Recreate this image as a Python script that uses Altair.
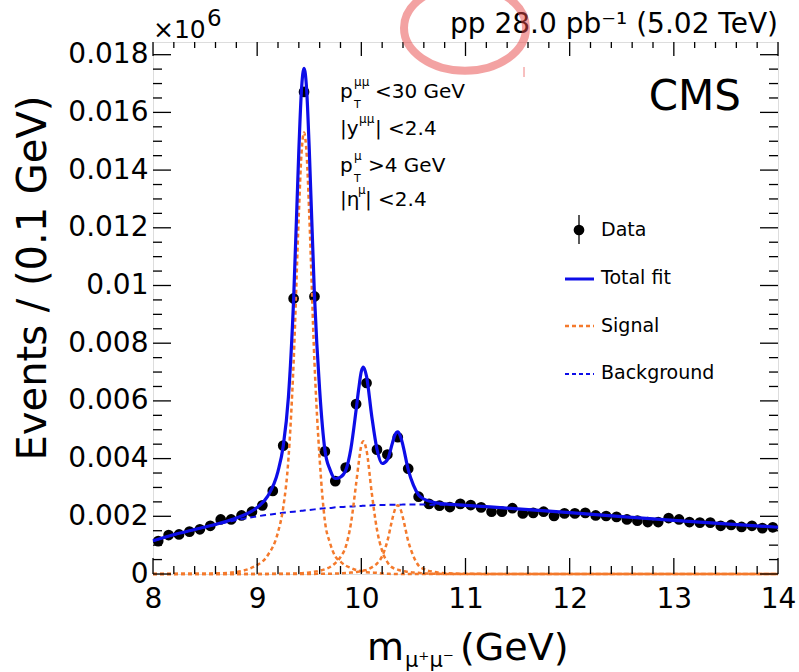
import altair as alt
import pandas as pd

# ---------------- data ----------------
mass = [8.05, 8.15, 8.25, 8.35, 8.45, 8.55, 8.65, 8.75, 8.85, 8.95,
        9.05, 9.15, 9.25, 9.35, 9.45, 9.55, 9.65, 9.75, 9.85, 9.95,
        10.05, 10.15, 10.25, 10.35, 10.45, 10.55, 10.65, 10.75, 10.85, 10.95,
        11.05, 11.15, 11.25, 11.35, 11.45, 11.55, 11.65, 11.75, 11.85, 11.95,
        12.05, 12.15, 12.25, 12.35, 12.45, 12.55, 12.65, 12.75, 12.85, 12.95,
        13.05, 13.15, 13.25, 13.35, 13.45, 13.55, 13.65, 13.75, 13.85, 13.95]
events = [0.00114, 0.00135, 0.00137, 0.00147, 0.00155, 0.00167, 0.00189, 0.00189, 0.00203, 0.00216,
          0.00238, 0.00288, 0.00445, 0.00955, 0.01671, 0.00962, 0.00425, 0.00322, 0.00369, 0.00589,
          0.00662, 0.00431, 0.00414, 0.00474, 0.00365, 0.00268, 0.00243, 0.00237, 0.00232, 0.00243,
          0.00239, 0.00231, 0.00216, 0.00216, 0.00228, 0.00210, 0.00212, 0.00216, 0.00201, 0.00210,
          0.00210, 0.00212, 0.00203, 0.00201, 0.00198, 0.00189, 0.00185, 0.00180, 0.00180, 0.00194,
          0.00189, 0.00180, 0.00178, 0.00178, 0.00167, 0.00170, 0.00163, 0.00167, 0.00159, 0.00162]

fit_mass = [8.0, 8.25, 8.5, 8.75, 9.0, 9.1, 9.2, 9.25, 9.3, 9.35,
            9.4, 9.425, 9.45, 9.475, 9.5, 9.55, 9.6, 9.65, 9.7, 9.75,
            9.8, 9.85, 9.9, 9.95, 9.975, 10.0, 10.02, 10.05, 10.1, 10.15,
            10.2, 10.25, 10.3, 10.325, 10.35, 10.375, 10.4, 10.45, 10.5, 10.55,
            10.6, 10.7, 10.8, 11.0, 11.5, 12.0, 12.5, 13.0, 13.5, 14.0]
fit_background = [0.00115, 0.00140, 0.00162, 0.00183, 0.00200, 0.00205, 0.00210, 0.00212, 0.00214, 0.00216,
                  0.00218, 0.00219, 0.00220, 0.00221, 0.00222, 0.00224, 0.00226, 0.00228, 0.00229, 0.00231,
                  0.00232, 0.00233, 0.00234, 0.00235, 0.00236, 0.00236, 0.00237, 0.00237, 0.00238, 0.00239,
                  0.00239, 0.00240, 0.00240, 0.00240, 0.00240, 0.00240, 0.00241, 0.00241, 0.00241, 0.00241,
                  0.00241, 0.00240, 0.00240, 0.00237, 0.00226, 0.00213, 0.00199, 0.00186, 0.00174, 0.00162]
fit_signal_1s = [0, 0.000005, 0.00001, 0.00005, 0.00031, 0.00064, 0.00145, 0.0023, 0.00398, 0.00734,
                 0.01247, 0.01454, 0.0153, 0.01454, 0.01247, 0.00734, 0.00398, 0.00184, 0.00107, 0.00061,
                 0.00043, 0.00029, 0.00021, 0.00014, 0.00012, 0.0001, 0.00008, 0.00006, 0.00005, 0.00004,
                 0.00002, 0.00001, 0, 0, 0, 0, 0, 0, 0, 0,
                 0, 0, 0, 0, 0, 0, 0, 0, 0, 0]
fit_signal_2s = [0, 0, 0, 0, 0.000002, 0.000004, 0.000007, 0.000009, 0.000012, 0.000015,
                 0.000025, 0.000028, 0.000032, 0.000039, 0.000053, 0.000078, 0.000115, 0.000166, 0.000244, 0.000377,
                 0.000589, 0.000943, 0.00175, 0.00313, 0.00386, 0.00446, 0.0046, 0.00428, 0.00281, 0.00154,
                 0.0008, 0.00041, 0.00022, 0.00018, 0.00015, 0.00012, 0.0001, 0.00007, 0.00005, 0.00004,
                 0.00002, 0.00001, 0, 0, 0, 0, 0, 0, 0, 0]
fit_signal_3s = [0, 0, 0, 0, 0, 0, 0, 0, 0, 0,
                 0, 0, 0, 0, 0.000003, 0.000004, 0.000005, 0.000007, 0.00001, 0.000014,
                 0.000023, 0.000031, 0.000048, 0.000067, 0.000083, 0.0001, 0.00012, 0.00014, 0.00023, 0.00036,
                 0.00062, 0.00114, 0.00194, 0.00226, 0.00238, 0.00226, 0.00194, 0.00114, 0.00062, 0.00029,
                 0.00017, 0.00007, 0.00003, 0.00001, 0, 0, 0, 0, 0, 0]
fit_total = [0.00115, 0.00141, 0.00163, 0.00188, 0.00231, 0.00269, 0.00356, 0.00443, 0.00613, 0.00952,
             0.01468, 0.01676, 0.01753, 0.01679, 0.01474, 0.00966, 0.00637, 0.00430, 0.00361, 0.00331,
             0.00336, 0.00359, 0.00435, 0.00569, 0.00642, 0.00702, 0.00717, 0.00685, 0.00547, 0.00433,
             0.00383, 0.00396, 0.00456, 0.00484, 0.00493, 0.00478, 0.00445, 0.00362, 0.00308, 0.00274,
             0.00260, 0.00248, 0.00243, 0.00238, 0.00226, 0.00213, 0.00199, 0.00186, 0.00174, 0.00162]

x_ticks = [8, 9, 10, 11, 12, 13, 14]
y_ticks = [0, 0.002, 0.004, 0.006, 0.008, 0.010, 0.012, 0.014, 0.016, 0.018]
x_domain = [8, 14]
y_domain = [0, 0.01844]

legend_labels = ["Data", "Total fit", "Signal", "Background"]
title_text = "pp 28.0 pb\u207b\u00b9 (5.02 TeV)"
experiment = "CMS"
y_title = "Events / (0.1 GeV)"

# ---------------- layout / style ----------------
LEFT, TOP, W, H = 153, 42, 625, 532
FONT = "DejaVu Sans"
BLUE = "#0d0de8"
ORANGE = "#f47a2c"
DOT = 115

xs = alt.Scale(domain=x_domain, nice=False, zero=False)
ys = alt.Scale(domain=y_domain, nice=False)

X_AXIS = alt.Axis(values=x_ticks, format="d", ticks=False, domain=False, grid=False, title=None,
                  labelFontSize=28, labelFont=FONT, labelColor="black", labelPadding=11, labelFlush=False)
Y_AXIS = alt.Axis(values=y_ticks, format=".3~f", ticks=False, domain=False, grid=False, title=None,
                  labelFontSize=28, labelFont=FONT, labelColor="black", labelPadding=5, labelFlush=False)


def X(field):
    return alt.X(field, scale=xs, axis=X_AXIS, title=None)


def Y(field):
    return alt.Y(field, scale=ys, axis=Y_AXIS, title=None)


df_data = pd.DataFrame({"m": mass, "n": events})
df_fit = pd.DataFrame({"m": fit_mass, "bg": fit_background, "s1": fit_signal_1s,
                       "s2": fit_signal_2s, "s3": fit_signal_3s, "tot": fit_total})

points = alt.Chart(df_data).mark_circle(size=DOT, color="black", opacity=1).encode(
    x=X("m:Q"), y=Y("n:Q"))


def curve(field, color, width, dash=None):
    kw = dict(color=color, strokeWidth=width, interpolate="monotone")
    if dash:
        kw["strokeDash"] = dash
    return alt.Chart(df_fit).mark_line(**kw).encode(x=X("m:Q"), y=Y(field + ":Q"))


bg_line = curve("bg", BLUE, 2, [6, 4])
s1_line = curve("s1", ORANGE, 2.5, [4, 3])
s2_line = curve("s2", ORANGE, 2.5, [4, 3])
s3_line = curve("s3", ORANGE, 2.5, [4, 3])
tot_line = curve("tot", BLUE, 3.2)

# ---- inward ticks (ROOT style) ----
x_major = pd.DataFrame({"t": x_ticks})
x_minor = pd.DataFrame({"t": [round(8 + 0.2 * i, 1) for i in range(31) if i % 5]})
y_major = pd.DataFrame({"t": y_ticks})
y_minor = pd.DataFrame({"t": [round(0.0005 * i, 4) for i in range(37) if i % 4]})

ticks = []
for df, ln in [(x_major, 16), (x_minor, 8)]:
    ticks.append(alt.Chart(df).mark_rule(color="black", strokeWidth=1.3).encode(
        x=X("t:Q"), y=alt.value(H), y2=alt.value(H - ln)))
    ticks.append(alt.Chart(df).mark_rule(color="black", strokeWidth=1.3).encode(
        x=X("t:Q"), y=alt.value(0), y2=alt.value(ln - 2)))
for df, ln in [(y_major, 18), (y_minor, 9)]:
    ticks.append(alt.Chart(df).mark_rule(color="black", strokeWidth=1.3).encode(
        y=Y("t:Q"), x=alt.value(0), x2=alt.value(ln)))
    ticks.append(alt.Chart(df).mark_rule(color="black", strokeWidth=1.3).encode(
        y=Y("t:Q"), x=alt.value(W), x2=alt.value(W - ln)))


def txt(s, x, y, size, align="left", baseline="alphabetic", angle=None):
    kw = dict(align=align, baseline=baseline, fontSize=size, font=FONT, color="black")
    if angle is not None:
        kw["angle"] = angle
    return alt.Chart(pd.DataFrame({"label": [s]})).mark_text(**kw).encode(
        text="label:N", x=alt.value(x - LEFT), y=alt.value(y - TOP))


texts = [
    # top labels
    txt("\u00d710", 153, 38, 25),
    txt("6", 207, 26, 23),
    txt(title_text, 778, 33, 28, align="right"),
    txt(experiment, 741, 110, 42, align="right"),
    # selection cuts
    txt("p", 340, 98, 20), txt("\u03bc\u03bc", 354, 86, 12), txt("T", 354, 108, 11),
    txt("<30 GeV", 375, 98, 20),
    txt("|y", 340, 135, 20), txt("\u03bc\u03bc", 359, 123, 12), txt("| <2.4", 375, 135, 20),
    txt("p", 340, 172, 20), txt("\u03bc", 354, 160, 12), txt("T", 354, 182, 11),
    txt(">4 GeV", 368, 172, 20),
    txt("|\u03b7", 340, 206, 20), txt("\u03bc", 358, 194, 12), txt("| <2.4", 365, 206, 20),
    # legend
    txt(legend_labels[0], 601, 230, 19, baseline="middle"),
    txt(legend_labels[1], 601, 278, 19, baseline="middle"),
    txt(legend_labels[2], 601, 326, 19, baseline="middle"),
    txt(legend_labels[3], 601, 373, 19, baseline="middle"),
    # axis titles
    txt(y_title, 34, 278, 40, align="center", baseline="middle", angle=270),
    txt("m", 367, 660, 38),
    txt("\u03bc\u207a\u03bc\u207b", 405, 667, 21),
    txt("(GeV)", 460, 660, 38),
]

legend_marks = [
    alt.Chart(pd.DataFrame({"k": [0]})).mark_circle(size=DOT, color="black", opacity=1).encode(
        x=alt.value(579 - LEFT), y=alt.value(230 - TOP)),
    alt.Chart(pd.DataFrame({"k": [0]})).mark_rule(color="black", strokeWidth=1.3).encode(
        x=alt.value(579 - LEFT), y=alt.value(215 - TOP), y2=alt.value(244 - TOP)),
    alt.Chart(pd.DataFrame({"k": [0]})).mark_rule(color=BLUE, strokeWidth=3).encode(
        x=alt.value(565 - LEFT), x2=alt.value(594 - LEFT), y=alt.value(279 - TOP)),
    alt.Chart(pd.DataFrame({"k": [0]})).mark_rule(color=ORANGE, strokeWidth=2.5, strokeDash=[4, 3]).encode(
        x=alt.value(565 - LEFT), x2=alt.value(594 - LEFT), y=alt.value(326 - TOP)),
    alt.Chart(pd.DataFrame({"k": [0]})).mark_rule(color=BLUE, strokeWidth=2, strokeDash=[4, 3]).encode(
        x=alt.value(565 - LEFT), x2=alt.value(594 - LEFT), y=alt.value(374 - TOP)),
]

ring = alt.Chart(pd.DataFrame({"k": [0]})).mark_point(
    shape="M -1 0 A 1 0.7 0 1 0 1 0 A 1 0.7 0 1 0 -1 0 Z", size=14884, filled=False,
    stroke="#e84848", strokeWidth=8, opacity=0.5).encode(
    x=alt.value(465 - LEFT), y=alt.value(28 - TOP))
ring_tick = alt.Chart(pd.DataFrame({"k": [0]})).mark_rule(color="#f08080", strokeWidth=1).encode(
    x=alt.value(524 - LEFT), y=alt.value(67 - TOP), y2=alt.value(77 - TOP))

chart = alt.layer(
    points, bg_line, s1_line, s2_line, s3_line, tot_line, *ticks, *legend_marks, *texts, ring, ring_tick
).properties(
    width=W, height=H,
    padding={"left": LEFT, "top": TOP, "right": 799 - LEFT - W, "bottom": 672 - TOP - H},
    autosize=alt.AutoSizeParams(type="none"),
).configure_view(stroke="black", strokeWidth=1.5).configure(background="white")

chart.save("out.html", embed_options={"renderer": "svg", "actions": False})
